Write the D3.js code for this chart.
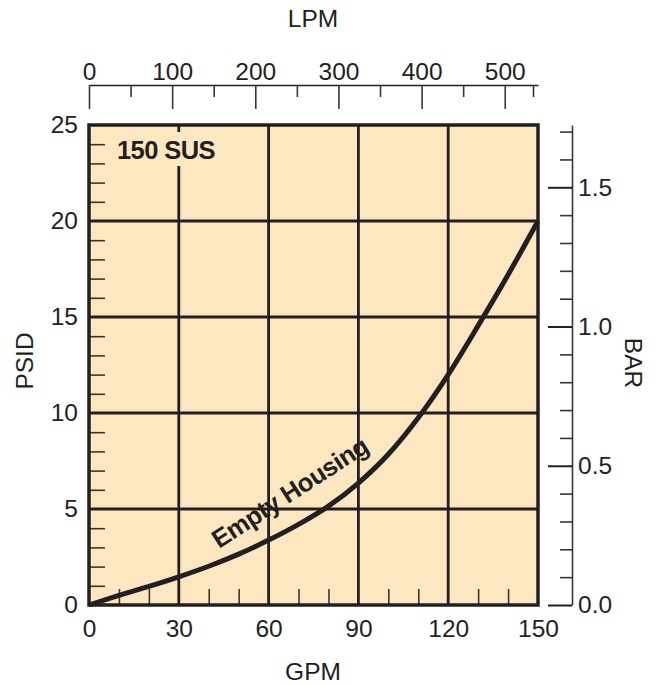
<!DOCTYPE html>
<html>
<head>
<meta charset="utf-8">
<script src="https://cdn.jsdelivr.net/npm/d3@7"></script>
<style>
  html, body { margin: 0; padding: 0; background: #ffffff; }
  svg { display: block; font-family: "Liberation Sans", Arial, Helvetica, sans-serif; }
</style>
</head>
<body>
<svg id="chart" width="665" height="685"></svg>
<script>
// ---- data ----
const gpm  = [0, 10, 20, 30, 40, 50, 60, 70, 80, 90, 100, 110, 120, 130, 140, 150];
const psid = [0, 0.5, 0.97, 1.47, 2.02, 2.65, 3.38, 4.2, 5.15, 6.35, 7.85, 9.75, 12.0, 14.55, 17.2, 20];
const gpmTicks = [0, 30, 60, 90, 120, 150];
const gpmMinor = [10, 20, 40, 50, 70, 80, 100, 110, 130, 140];
const psidTicks = [0, 5, 10, 15, 20, 25];
const psidMinor = [1,2,3,4,6,7,8,9,11,12,13,14,16,17,18,19,21,22,23,24];
const lpmTicks = [0, 100, 200, 300, 400, 500];
const lpmMinor = [50, 150, 250, 350, 450, 534];
const barTicks = [0.0, 0.5, 1.0, 1.5];
const barMinor = [0.1,0.2,0.3,0.4,0.6,0.7,0.8,0.9,1.1,1.2,1.3,1.4,1.6,1.7];
const PSI_PER_BAR = 14.5038;
const seriesLabel = "Empty Housing";
const chartNote = "150 SUS";

// ---- layout ----
const L = 89, R = 538, T = 125, B = 605;
const ink = "#231f20";
const fillColor = "#fde7c1";
const fs = 24.5;

const svg = d3.select("#chart");
const x = d3.scaleLinear().domain([0, 150]).range([L, R]);
const y = d3.scaleLinear().domain([0, 25]).range([B, T]);
const lpm = d3.scaleLinear().domain([0, 540]).range([L, R]);
const bar = d3.scaleLinear().domain([0, 25 / PSI_PER_BAR]).range([B, T]);

// background
svg.append("rect").attr("x", L).attr("y", T).attr("width", R - L).attr("height", B - T)
  .attr("fill", fillColor);

// grid lines
const grid = svg.append("g");
grid.selectAll("line.v").data(gpmTicks.slice(1, -1)).join("line")
  .attr("x1", d => x(d)).attr("x2", d => x(d)).attr("y1", T).attr("y2", B)
  .attr("stroke", ink).attr("stroke-width", 2.8);
grid.selectAll("line.h").data(psidTicks.slice(1, -1)).join("line")
  .attr("y1", d => y(d)).attr("y2", d => y(d)).attr("x1", L).attr("x2", R)
  .attr("stroke", ink).attr("stroke-width", 2.8);

// minor ticks inside (left and bottom)
const minorLeft = svg.append("g").attr("transform", `translate(${L},0)`)
  .call(d3.axisRight(y).tickValues(psidMinor).tickSize(16).tickFormat(""));
minorLeft.select(".domain").remove();
minorLeft.selectAll("line").attr("stroke", "#3a3536").attr("stroke-width", 1.6);
const minorBottom = svg.append("g").attr("transform", `translate(0,${B})`)
  .call(d3.axisTop(x).tickValues(gpmMinor).tickSize(16).tickFormat(""));
minorBottom.select(".domain").remove();
minorBottom.selectAll("line").attr("stroke", "#3a3536").attr("stroke-width", 1.6);

// note label with background gap
const noteG = svg.append("g");
noteG.append("rect").attr("x", 114).attr("y", 132).attr("width", 108).attr("height", 34)
  .attr("fill", fillColor);
noteG.append("text").attr("x", 117).attr("y", 159)
  .attr("font-size", 25.5).attr("font-weight", "bold").attr("fill", ink)
  .attr("letter-spacing", -0.6)
  .text(chartNote);

// curve
const pts = gpm.map((g, i) => [g, psid[i]]);
svg.append("path").datum(pts)
  .attr("fill", "none").attr("stroke", ink).attr("stroke-width", 5).attr("stroke-linecap", "butt")
  .attr("d", d3.line().x(d => x(d[0])).y(d => y(d[1])).curve(d3.curveMonotoneX));

// series label
svg.append("text")
  .attr("transform", `translate(219,549) rotate(-33)`)
  .attr("font-size", 25.5).attr("font-weight", "bold").attr("fill", ink)
  .attr("letter-spacing", -0.5)
  .text(seriesLabel);

// frame
svg.append("rect").attr("x", L).attr("y", T).attr("width", R - L).attr("height", B - T)
  .attr("fill", "none").attr("stroke", ink).attr("stroke-width", 3.5);

// left axis labels
const leftAx = svg.append("g").attr("transform", `translate(${L},0)`)
  .call(d3.axisLeft(y).tickValues(psidTicks).tickSize(0).tickPadding(11).tickFormat(d3.format("d")));
leftAx.select(".domain").remove();
leftAx.selectAll("text").attr("font-size", fs).attr("fill", ink).attr("font-family", null);

// bottom axis labels
const botAx = svg.append("g").attr("transform", `translate(0,${B})`)
  .call(d3.axisBottom(x).tickValues(gpmTicks).tickSize(0).tickPadding(15).tickFormat(d3.format("d")));
botAx.select(".domain").remove();
botAx.selectAll("text").attr("font-size", fs).attr("fill", ink).attr("font-family", null);

// top axis (LPM)
const topAx = svg.append("g").attr("transform", "translate(0,85)")
  .call(d3.axisTop(lpm).tickValues(lpmTicks).tickSizeInner(-24).tickSizeOuter(0).tickPadding(5).tickFormat(d3.format("d")));
topAx.select(".domain").attr("stroke", ink).attr("stroke-width", 1.6);
topAx.selectAll("line").attr("stroke", "#3a3536").attr("stroke-width", 1.6);
topAx.selectAll("text").attr("font-size", fs).attr("fill", ink).attr("font-family", null);
const topMinor = svg.append("g").attr("transform", "translate(0,85)")
  .call(d3.axisTop(lpm).tickValues(lpmMinor).tickSizeInner(-12).tickSizeOuter(0).tickFormat(""));
topMinor.select(".domain").remove();
topMinor.selectAll("line").attr("stroke", "#3a3536").attr("stroke-width", 1.6);

// right axis (BAR)
const rightAx = svg.append("g").attr("transform", "translate(572,0)")
  .call(d3.axisRight(bar).tickValues(barTicks).tickSizeInner(-24).tickSizeOuter(0).tickPadding(6).tickFormat(d3.format(".1f")));
rightAx.select(".domain").attr("stroke", "#3a3536").attr("stroke-width", 1.6);
rightAx.selectAll("line").attr("stroke", ink).attr("stroke-width", 2);
rightAx.selectAll("text").attr("font-size", fs).attr("fill", ink).attr("font-family", null);
const rightMinor = svg.append("g").attr("transform", "translate(572,0)")
  .call(d3.axisRight(bar).tickValues(barMinor).tickSizeInner(-12).tickSizeOuter(0).tickFormat(""));
rightMinor.select(".domain").remove();
rightMinor.selectAll("line").attr("stroke", "#3a3536").attr("stroke-width", 1.6);

// axis titles
svg.append("text").attr("x", 313).attr("y", 27).attr("text-anchor", "middle")
  .attr("font-size", fs).attr("fill", ink).text("LPM");
svg.append("text").attr("x", 313).attr("y", 680).attr("text-anchor", "middle")
  .attr("font-size", fs).attr("fill", ink).text("GPM");
svg.append("text").attr("transform", "translate(33,361) rotate(-90)").attr("text-anchor", "middle")
  .attr("font-size", fs).attr("fill", ink).text("PSID");
svg.append("text").attr("transform", "translate(625,363) rotate(90)").attr("text-anchor", "middle")
  .attr("font-size", fs).attr("fill", ink).text("BAR");
</script>
</body>
</html>
